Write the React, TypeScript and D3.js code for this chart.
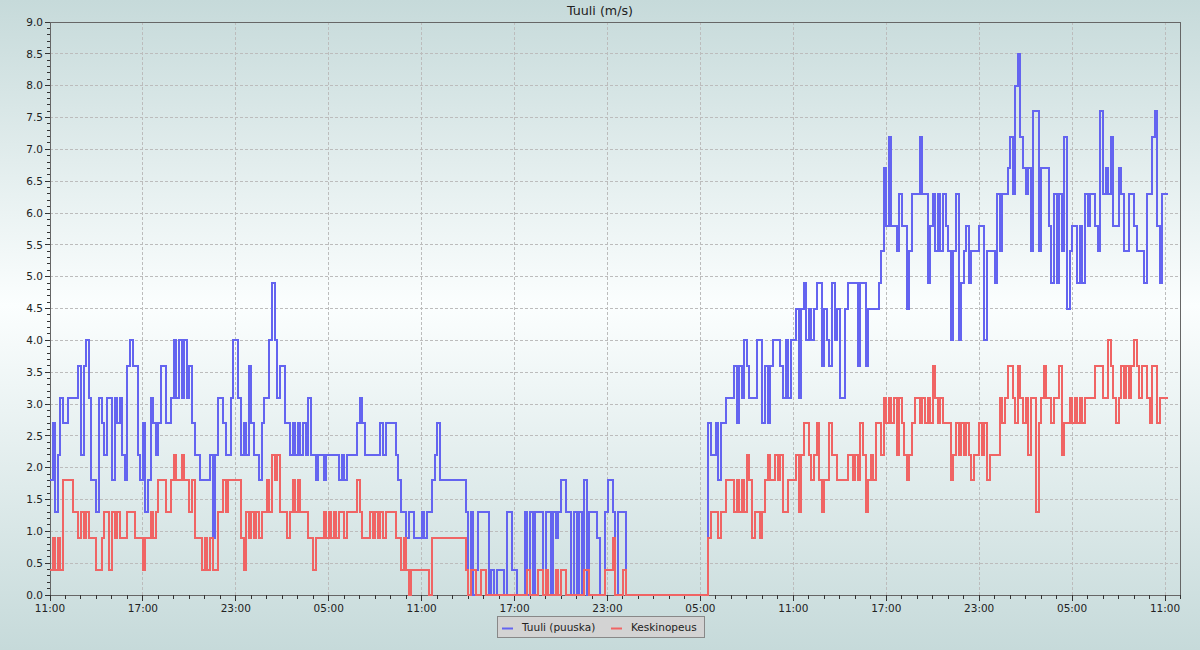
import React from 'react';
import * as d3 from 'd3';

const W = 1200;
const H = 650;
const PLOT_LEFT = 50;
const PLOT_RIGHT = 1180.5;
const PLOT_TOP = 22;
const PLOT_BOTTOM = 595;

const chartTitle = 'Tuuli (m/s)';
const seriesNames = ['Tuuli (puuska)', 'Keskinopeus'];
const seriesColors = ['#6464f0', '#f06464'];
const yTickValues = [0, 0.5, 1, 1.5, 2, 2.5, 3, 3.5, 4, 4.5, 5, 5.5, 6, 6.5, 7, 7.5, 8, 8.5, 9];
const xTickLabels = ['11:00', '17:00', '23:00', '05:00', '11:00', '17:00', '23:00', '05:00', '11:00', '17:00', '23:00', '05:00', '11:00'];
const startTime = new Date(2024, 0, 10, 11, 0, 0);
const stepMinutes = 10;
const totalHours = 73;

// Gust (Tuuli, puuska) m/s, one value per 10 minutes, row = one hour
const gustValues = [
  1.8, 2.7, 1.3, 2.2, 3.1, 2.7, // 11
  2.7, 3.1, 3.1, 3.1, 3.1, 3.6, // 12
  2.2, 3.6, 4.0, 3.1, 1.8, 1.8, // 13
  1.3, 3.1, 2.7, 2.2, 3.1, 3.1, // 14
  1.8, 3.1, 2.7, 3.1, 2.2, 1.8, // 15
  3.6, 4.0, 3.6, 3.6, 2.2, 1.8, // 16
  2.7, 1.3, 1.8, 3.1, 2.7, 2.2, // 17
  2.7, 3.6, 3.6, 2.7, 2.7, 3.1, // 18
  4.0, 3.1, 4.0, 3.1, 4.0, 3.1, // 19
  3.6, 2.7, 2.2, 2.2, 1.8, 1.8, // 20
  1.8, 1.8, 2.2, 0.9, 2.2, 3.1, // 21
  3.1, 2.7, 2.2, 2.2, 3.1, 4.0, // 22
  4.0, 3.1, 2.2, 2.7, 2.2, 3.6, // 23
  2.7, 2.2, 2.2, 1.8, 2.7, 3.1, // 00
  3.1, 4.0, 4.9, 4.0, 3.1, 3.6, // 01
  3.6, 2.7, 2.7, 2.2, 2.7, 2.2, // 02
  2.7, 2.2, 2.7, 2.2, 3.1, 2.2, // 03
  2.2, 1.8, 2.2, 2.2, 1.8, 2.2, // 04
  2.2, 2.2, 2.2, 2.2, 1.8, 2.2, // 05
  1.8, 2.2, 2.2, 2.2, 2.2, 2.7, // 06
  3.1, 2.7, 2.2, 2.2, 2.2, 2.2, // 07
  2.2, 2.2, 2.7, 2.2, 2.7, 2.7, // 08
  2.7, 2.7, 2.2, 1.8, 1.3, 1.3, // 09
  0.9, 1.3, 1.3, 0.9, 0.9, 0.9, // 10
  1.3, 0.9, 1.3, 1.3, 1.8, 2.2, // 11
  2.7, 1.8, 1.8, 1.8, 1.8, 1.8, // 12
  1.8, 1.8, 1.8, 1.8, 1.8, 1.3, // 13
  0.0, 1.3, 0.0, 0.4, 1.3, 1.3, // 14
  1.3, 1.3, 0.0, 0.4, 0.0, 0.4, // 15
  0.4, 0.4, 0.0, 1.3, 1.3, 0.4, // 16
  0.4, 0.0, 0.0, 0.0, 1.3, 0.0, // 17
  1.3, 0.0, 1.3, 1.3, 1.3, 0.0, // 18
  1.3, 1.3, 0.0, 1.3, 0.9, 1.3, // 19
  1.8, 1.8, 1.3, 1.3, 0.0, 1.3, // 20
  0.0, 1.3, 0.0, 1.8, 0.0, 1.3, // 21
  1.3, 1.3, 0.9, 0.0, 0.0, 1.3, // 22
  1.8, 1.8, 1.3, 0.0, 1.3, 1.3, // 23
  1.3, 0.0, 0.0, 0.0, 0.0, 0.0, // 00
  0.0, 0.0, 0.0, 0.0, 0.0, 0.0, // 01
  0.0, 0.0, 0.0, 0.0, 0.0, 0.0, // 02
  0.0, 0.0, 0.0, 0.0, 0.0, 0.0, // 03
  0.0, 0.0, 0.0, 0.0, 0.0, 0.0, // 04
  0.0, 0.0, 0.0, 2.7, 2.2, 2.2, // 05
  2.7, 1.8, 2.7, 2.7, 3.1, 3.1, // 06
  3.1, 3.6, 2.7, 3.6, 3.1, 4.0, // 07
  3.6, 3.1, 3.1, 3.1, 4.0, 4.0, // 08
  2.7, 3.6, 2.7, 3.6, 4.0, 4.0, // 09
  4.0, 3.6, 3.1, 4.0, 3.1, 4.0, // 10
  4.0, 4.5, 3.1, 4.5, 4.9, 4.0, // 11
  4.5, 4.0, 4.5, 4.9, 4.9, 3.6, // 12
  4.5, 4.0, 3.6, 4.9, 4.0, 4.5, // 13
  3.1, 3.1, 4.5, 4.9, 4.9, 4.9, // 14
  4.9, 3.6, 4.9, 4.9, 3.6, 4.5, // 15
  4.5, 4.5, 4.5, 4.9, 5.4, 6.7, // 16
  5.8, 7.2, 5.8, 5.8, 5.4, 6.3, // 17
  5.8, 5.8, 4.5, 5.4, 6.3, 6.3, // 18
  6.3, 7.2, 6.3, 6.3, 4.9, 5.8, // 19
  6.3, 5.4, 6.3, 5.4, 6.3, 5.8, // 20
  5.4, 4.0, 5.4, 6.3, 4.0, 4.9, // 21
  5.4, 5.8, 4.9, 5.4, 5.4, 5.4, // 22
  5.8, 5.8, 4.0, 5.4, 5.4, 5.4, // 23
  4.9, 6.3, 5.4, 6.3, 6.3, 6.7, // 00
  7.2, 6.3, 8.0, 8.5, 7.2, 6.7, // 01
  6.3, 6.7, 5.4, 7.6, 7.6, 5.4, // 02
  6.7, 6.7, 6.7, 5.8, 4.9, 6.3, // 03
  4.9, 6.3, 5.4, 7.2, 4.5, 5.4, // 04
  5.8, 5.8, 4.9, 5.8, 4.9, 6.3, // 05
  5.8, 6.3, 6.3, 5.8, 5.4, 7.6, // 06
  6.3, 6.7, 6.3, 7.2, 5.8, 5.8, // 07
  6.7, 6.3, 5.4, 5.4, 6.3, 6.3, // 08
  5.8, 5.4, 5.4, 5.4, 4.9, 6.3, // 09
  6.3, 7.2, 7.6, 5.8, 4.9, 6.3, // 10
  6.3, // 11
];

// Mean wind (Keskinopeus) m/s, one value per 10 minutes, row = one hour
const meanValues = [
  0.4, 0.9, 0.4, 0.9, 0.4, 1.8, // 11
  1.8, 1.8, 1.8, 1.3, 1.3, 0.9, // 12
  1.3, 0.9, 1.3, 0.9, 0.9, 0.9, // 13
  0.4, 0.4, 0.9, 1.3, 1.3, 0.4, // 14
  1.3, 0.9, 1.3, 0.9, 0.9, 0.9, // 15
  1.3, 1.3, 1.3, 0.9, 0.9, 0.9, // 16
  0.4, 0.9, 0.9, 1.3, 0.9, 1.3, // 17
  1.8, 1.8, 1.8, 1.3, 1.3, 1.8, // 18
  2.2, 1.8, 1.8, 2.2, 1.8, 1.8, // 19
  1.3, 1.8, 0.9, 0.9, 0.9, 0.4, // 20
  0.9, 0.4, 0.9, 0.4, 0.4, 1.3, // 21
  1.3, 1.8, 1.3, 1.8, 1.8, 1.8, // 22
  1.8, 1.8, 0.9, 0.4, 1.3, 0.9, // 23
  1.3, 0.9, 1.3, 0.9, 1.3, 1.3, // 00
  1.8, 1.3, 2.2, 1.8, 2.2, 1.3, // 01
  1.3, 1.3, 0.9, 1.3, 1.8, 1.3, // 02
  1.8, 1.3, 1.3, 1.3, 0.9, 0.9, // 03
  0.4, 0.9, 0.9, 0.9, 1.3, 0.9, // 04
  1.3, 0.9, 1.3, 0.9, 1.3, 1.3, // 05
  0.9, 1.3, 1.3, 1.3, 1.3, 1.8, // 06
  1.3, 0.9, 0.9, 0.9, 1.3, 0.9, // 07
  1.3, 0.9, 1.3, 0.9, 1.3, 1.3, // 08
  1.3, 1.3, 0.9, 0.9, 0.4, 0.9, // 09
  0.4, 0.0, 0.4, 0.4, 0.4, 0.4, // 10
  0.4, 0.4, 0.4, 0.0, 0.9, 0.9, // 11
  0.9, 0.9, 0.9, 0.9, 0.9, 0.9, // 12
  0.9, 0.9, 0.9, 0.9, 0.9, 0.4, // 13
  0.0, 0.4, 0.4, 0.0, 0.0, 0.4, // 14
  0.4, 0.0, 0.0, 0.0, 0.0, 0.0, // 15
  0.0, 0.0, 0.0, 0.0, 0.0, 0.0, // 16
  0.0, 0.0, 0.0, 0.0, 0.0, 0.4, // 17
  0.0, 0.0, 0.0, 0.4, 0.4, 0.0, // 18
  0.4, 0.0, 0.0, 0.0, 0.4, 0.0, // 19
  0.4, 0.4, 0.0, 0.0, 0.0, 0.0, // 20
  0.0, 0.0, 0.0, 0.4, 0.4, 0.0, // 21
  0.0, 0.0, 0.0, 0.0, 0.0, 0.4, // 22
  0.4, 0.4, 0.9, 0.0, 0.0, 0.0, // 23
  0.4, 0.0, 0.0, 0.0, 0.0, 0.0, // 00
  0.0, 0.0, 0.0, 0.0, 0.0, 0.0, // 01
  0.0, 0.0, 0.0, 0.0, 0.0, 0.0, // 02
  0.0, 0.0, 0.0, 0.0, 0.0, 0.0, // 03
  0.0, 0.0, 0.0, 0.0, 0.0, 0.0, // 04
  0.0, 0.0, 0.0, 0.9, 1.3, 1.3, // 05
  1.3, 0.9, 1.3, 1.3, 1.8, 1.8, // 06
  1.8, 1.3, 1.8, 1.3, 1.8, 1.3, // 07
  2.2, 1.8, 0.9, 1.3, 1.3, 0.9, // 08
  1.3, 1.8, 2.2, 1.8, 1.8, 2.2, // 09
  1.8, 2.2, 1.3, 1.3, 1.8, 1.8, // 10
  1.8, 2.2, 1.3, 2.2, 2.7, 2.7, // 11
  2.2, 1.8, 2.2, 2.7, 1.8, 1.3, // 12
  1.8, 1.8, 2.7, 2.2, 2.2, 1.8, // 13
  1.8, 1.8, 1.8, 2.2, 2.2, 1.8, // 14
  2.2, 1.8, 2.7, 2.2, 1.3, 1.8, // 15
  2.2, 1.8, 2.7, 2.7, 2.2, 3.1, // 16
  2.7, 3.1, 2.7, 3.1, 2.2, 3.1, // 17
  2.7, 2.2, 1.8, 2.2, 2.7, 3.1, // 18
  3.1, 2.7, 3.1, 2.7, 3.1, 2.7, // 19
  3.6, 3.1, 2.7, 3.1, 2.7, 2.7, // 20
  2.7, 1.8, 2.2, 2.7, 2.2, 2.7, // 21
  2.2, 2.7, 2.2, 1.8, 2.2, 2.2, // 22
  2.7, 2.2, 2.7, 1.8, 2.2, 2.2, // 23
  2.2, 2.2, 3.1, 2.7, 3.1, 3.6, // 00
  3.6, 3.1, 2.7, 3.6, 3.1, 2.7, // 01
  3.1, 2.2, 3.1, 3.1, 1.3, 2.7, // 02
  3.1, 3.6, 3.1, 3.1, 2.7, 3.1, // 03
  3.1, 3.6, 2.2, 2.7, 2.7, 3.1, // 04
  2.7, 3.1, 2.7, 3.1, 2.7, 3.1, // 05
  3.1, 3.1, 3.1, 3.6, 3.6, 3.6, // 06
  3.1, 3.1, 4.0, 3.6, 3.1, 2.7, // 07
  3.1, 3.6, 3.1, 3.6, 3.1, 3.6, // 08
  4.0, 3.6, 3.1, 3.6, 3.6, 3.1, // 09
  2.7, 3.6, 3.6, 2.7, 3.1, 3.1, // 10
  3.1, // 11
];

const HOUR = 3600 * 1000;

function toPoints(values: number[]): [Date, number][] {
  const pts: [Date, number][] = values.map((v, i) => [new Date(startTime.getTime() + i * stepMinutes * 60000), v]);
  pts.push([new Date(startTime.getTime() + values.length * stepMinutes * 60000), values[values.length - 1]]);
  return pts;
}

export default function App() {
  const x = d3
    .scaleTime()
    .domain([startTime, new Date(startTime.getTime() + totalHours * HOUR)])
    .range([PLOT_LEFT, PLOT_RIGHT]);
  const y = d3.scaleLinear().domain([0, 9]).range([PLOT_BOTTOM, PLOT_TOP]);

  const majorTimes = xTickLabels.map((_, k) => new Date(startTime.getTime() + k * 6 * HOUR));
  const minorTimes = d3.range(0, totalHours + 1).map((h) => new Date(startTime.getTime() + h * HOUR));
  const minorY = d3.range(0, 91).map((k) => k / 10);

  const line = d3
    .line<[Date, number]>()
    .x((d) => x(d[0]))
    .y((d) => y(d[1]))
    .curve(d3.curveStepAfter);

  const series = [gustValues, meanValues];
  const font = '"DejaVu Sans", Verdana, sans-serif';

  return (
    <svg
      width={W}
      height={H}
      viewBox={`0 0 ${W} ${H}`}
      style={{ position: 'absolute', left: 0, top: 0, display: 'block' }}
      fontFamily={font}
    >
      <defs>
        <linearGradient id="bg" x1="0" y1="0" x2="0" y2="1">
          <stop offset="0" stopColor="#c6dada" />
          <stop offset="0.47" stopColor="#fbfefe" />
          <stop offset="1" stopColor="#c6dada" />
        </linearGradient>
      </defs>
      <rect x={0} y={0} width={W} height={H} fill="url(#bg)" />

      {/* grid */}
      <g stroke="#bcbcbc" strokeWidth={1} strokeDasharray="3,2" shapeRendering="crispEdges">
        {yTickValues.map((v) => (
          <line key={'gy' + v} x1={PLOT_LEFT} x2={PLOT_RIGHT} y1={y(v)} y2={y(v)} />
        ))}
        {majorTimes.map((t, i) => (
          <line key={'gx' + i} x1={x(t)} x2={x(t)} y1={PLOT_TOP} y2={PLOT_BOTTOM} />
        ))}
      </g>

      {/* frame */}
      <g stroke="#666" strokeWidth={1} shapeRendering="crispEdges" fill="none">
        <line x1={PLOT_LEFT} x2={PLOT_RIGHT} y1={PLOT_TOP} y2={PLOT_TOP} />
        <line x1={PLOT_RIGHT} x2={PLOT_RIGHT} y1={PLOT_TOP} y2={PLOT_BOTTOM} />
        <line x1={PLOT_LEFT} x2={PLOT_LEFT} y1={PLOT_TOP} y2={PLOT_BOTTOM} />
        <line x1={PLOT_LEFT} x2={PLOT_RIGHT} y1={PLOT_BOTTOM} y2={PLOT_BOTTOM} />
      </g>

      {/* y ticks */}
      <g stroke="#333" strokeWidth={1} shapeRendering="crispEdges">
        {minorY.map((v, i) => (
          <line key={'my' + i} x1={i % 5 === 0 ? PLOT_LEFT - 5 : PLOT_LEFT - 3} x2={PLOT_LEFT} y1={y(v)} y2={y(v)} />
        ))}
        {minorTimes.map((t, i) => (
          <line key={'mx' + i} x1={x(t)} x2={x(t)} y1={PLOT_BOTTOM} y2={i % 6 === 0 ? PLOT_BOTTOM + 6 : PLOT_BOTTOM + 4} />
        ))}
        <line x1={PLOT_RIGHT} x2={PLOT_RIGHT} y1={PLOT_BOTTOM} y2={PLOT_BOTTOM + 4} />
      </g>
      <g fontSize={10.5} fill="#222" textAnchor="end">
        {yTickValues.map((v) => (
          <text key={'ly' + v} x={43} y={y(v) + 3.8}>
            {d3.format('.1f')(v)}
          </text>
        ))}
      </g>
      <g fontSize={10.5} fill="#222" textAnchor="middle">
        {majorTimes.map((t, i) => (
          <text key={'lx' + i} x={x(t)} y={612}>
            {xTickLabels[i]}
          </text>
        ))}
      </g>

      {/* data */}
      {series.map((vals, si) => (
        <path
          key={'s' + si}
          d={line(toPoints(vals)) || ''}
          fill="none"
          stroke={seriesColors[si]}
          strokeWidth={2}
          shapeRendering="crispEdges"
        />
      ))}

      {/* title */}
      <text x={600} y={15} textAnchor="middle" fontSize={12.7} fill="#222">
        {chartTitle}
      </text>

      {/* legend */}
      <rect x={497.5} y={616.5} width={207} height={21} fill="#d3d3d3" stroke="#888" strokeWidth={1} shapeRendering="crispEdges" />
      <line x1={502} x2={513} y1={628.5} y2={628.5} stroke={seriesColors[0]} strokeWidth={2} />
      <text x={522} y={631} fontSize={10.5} fill="#222">
        {seriesNames[0]}
      </text>
      <line x1={611} x2={622} y1={628.5} y2={628.5} stroke={seriesColors[1]} strokeWidth={2} />
      <text x={631} y={631} fontSize={10.5} fill="#222">
        {seriesNames[1]}
      </text>
    </svg>
  );
}
